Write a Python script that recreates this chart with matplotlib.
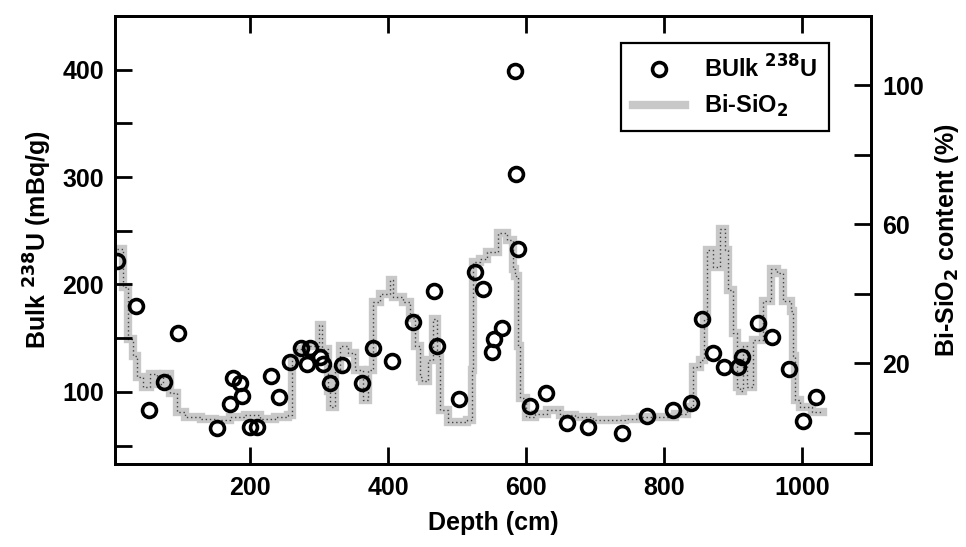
import numpy as np
import matplotlib
matplotlib.use("Agg")
import matplotlib.pyplot as plt
from matplotlib.ticker import MultipleLocator

plt.rcParams['font.family'] = ['Liberation Sans', 'DejaVu Sans']
plt.rcParams['font.weight'] = 'bold'
plt.rcParams['axes.labelweight'] = 'bold'
plt.rcParams['mathtext.default'] = 'bf'

# Bulk 238U (mBq/g) vs depth (cm)
u_depth = [7, 35, 54, 75, 96, 152, 171, 175, 185, 188, 200, 210, 230, 242,
           258, 274, 283, 287, 301, 306, 316, 333, 362, 378, 406, 436, 467,
           471, 503, 526, 537, 551, 553, 565, 583, 585, 588, 606, 629, 659,
           690, 739, 775, 813, 839, 854, 871, 886, 907, 913, 936, 956, 981,
           1001, 1020]
u_bulk = [222, 180, 83, 109, 155, 66, 89, 113, 108, 96, 67, 67, 115, 95,
          128, 141, 126, 141, 132, 126, 108, 125, 108, 141, 129, 165, 194,
          143, 93, 212, 196, 137, 149, 159, 399, 303, 233, 87, 99, 71,
          67, 62, 78, 83, 90, 168, 136, 123, 123, 132, 164, 151, 121,
          73, 95]

# Bi-SiO2 content (%) vs depth (cm)
si_depth = [7, 16, 23, 30, 36, 45, 55, 65, 74, 84, 94, 106, 128, 149, 171,
            193, 214, 236, 255, 261, 268, 280, 294, 299, 304, 312, 316, 323,
            330, 341, 352, 364, 371, 378, 388, 403, 407, 422, 432, 439, 446,
            449, 457, 465, 471, 475, 486, 500, 514, 522, 523, 533, 543, 559,
            572, 581, 584, 588, 591, 599, 613, 630, 649, 671, 697, 722, 743,
            765, 794, 816, 833, 842, 852, 857, 862, 871, 881, 888, 893, 900,
            906, 910, 914, 920, 929, 943, 954, 964, 972, 983, 987, 990, 997,
            1014, 1030]
si_pct = [53, 42, 27, 22, 16, 13, 17, 14, 17, 11.5, 6, 4.5, 4, 3.5, 4.5,
          5, 4, 4.5, 5, 21, 24, 25, 25, 31, 24, 12, 7.5, 18,
          25, 23, 18, 9.5, 18, 37.5, 40, 44, 39, 37.5, 33, 25, 16,
          15, 21, 32.6, 22, 6.6, 3, 3, 3.7, 18, 49, 50, 52, 57.6,
          55.6, 47, 45, 25, 10, 4.6, 5.5, 6.6, 5, 4.5, 3.7, 3.7, 4,
          4.5, 4.6, 5.5, 7.5, 19, 21, 32.6, 52.7, 47.8, 58.5, 52.7, 41, 28.8,
          13, 12, 24.8, 13, 26.8, 38, 47, 46, 38, 35, 22, 9.5, 7.5,
          6, 5.8]

fig = plt.figure(figsize=(9.66, 5.47), dpi=100)
ax = fig.add_axes([0.119, 0.152, 0.783, 0.819])
ax2 = ax.twinx()

# grey band for Bi-SiO2, drawn on the right axis
l1, = ax2.plot(si_depth, si_pct, drawstyle='steps-post', color='#c8c8c8',
               lw=6, solid_joinstyle='miter', label='Bi-SiO$_2$')
ax2.plot(si_depth, si_pct, drawstyle='steps-post', color='#444444',
         lw=1.0, ls=(0, (1, 2)))

# circles on top
ax.set_zorder(ax2.get_zorder() + 1)
ax.patch.set_visible(False)
l0, = ax.plot(u_depth, u_bulk, 'o', ms=10, mfc='none', mec='black',
              mew=2.6, ls='none', label='BUlk $^{238}$U')

ax.set_xlim(4, 1100)
ax.set_ylim(33, 450)
ax2.set_ylim(-9, 120)

ax.xaxis.set_major_locator(MultipleLocator(200))
ax.yaxis.set_major_locator(MultipleLocator(100))
ax.yaxis.set_minor_locator(MultipleLocator(50))
ax2.set_yticks([20, 60, 100])
ax2.set_yticks([0, 40, 80], minor=True)

ax.tick_params(axis='x', which='both', direction='in', top=True,
               length=12, width=2, labelsize=18, pad=9)
ax.tick_params(axis='y', which='both', direction='in', length=12,
               width=2, labelsize=18, pad=8)
ax2.tick_params(axis='y', which='both', direction='in', length=12,
                width=2, labelsize=18, pad=8)

for a in (ax, ax2):
    for s in a.spines.values():
        s.set_linewidth(2)

ax.set_xlabel('Depth (cm)', fontsize=18, labelpad=8)
ax.set_ylabel('Bulk $^{238}$U (mBq/g)', fontsize=18, labelpad=6)
ax2.set_ylabel('Bi-SiO$_2$ content (%)', fontsize=18, labelpad=6)

leg = ax.legend(handles=[l0, l1], loc='upper right',
                bbox_to_anchor=(0.96, 0.965), fontsize=17, frameon=True,
                fancybox=False, edgecolor='black', handlelength=2.2,
                borderpad=0.5, labelspacing=0.45, framealpha=1)
leg.get_frame().set_linewidth(1.6)

fig.savefig('out.png', dpi=100)
